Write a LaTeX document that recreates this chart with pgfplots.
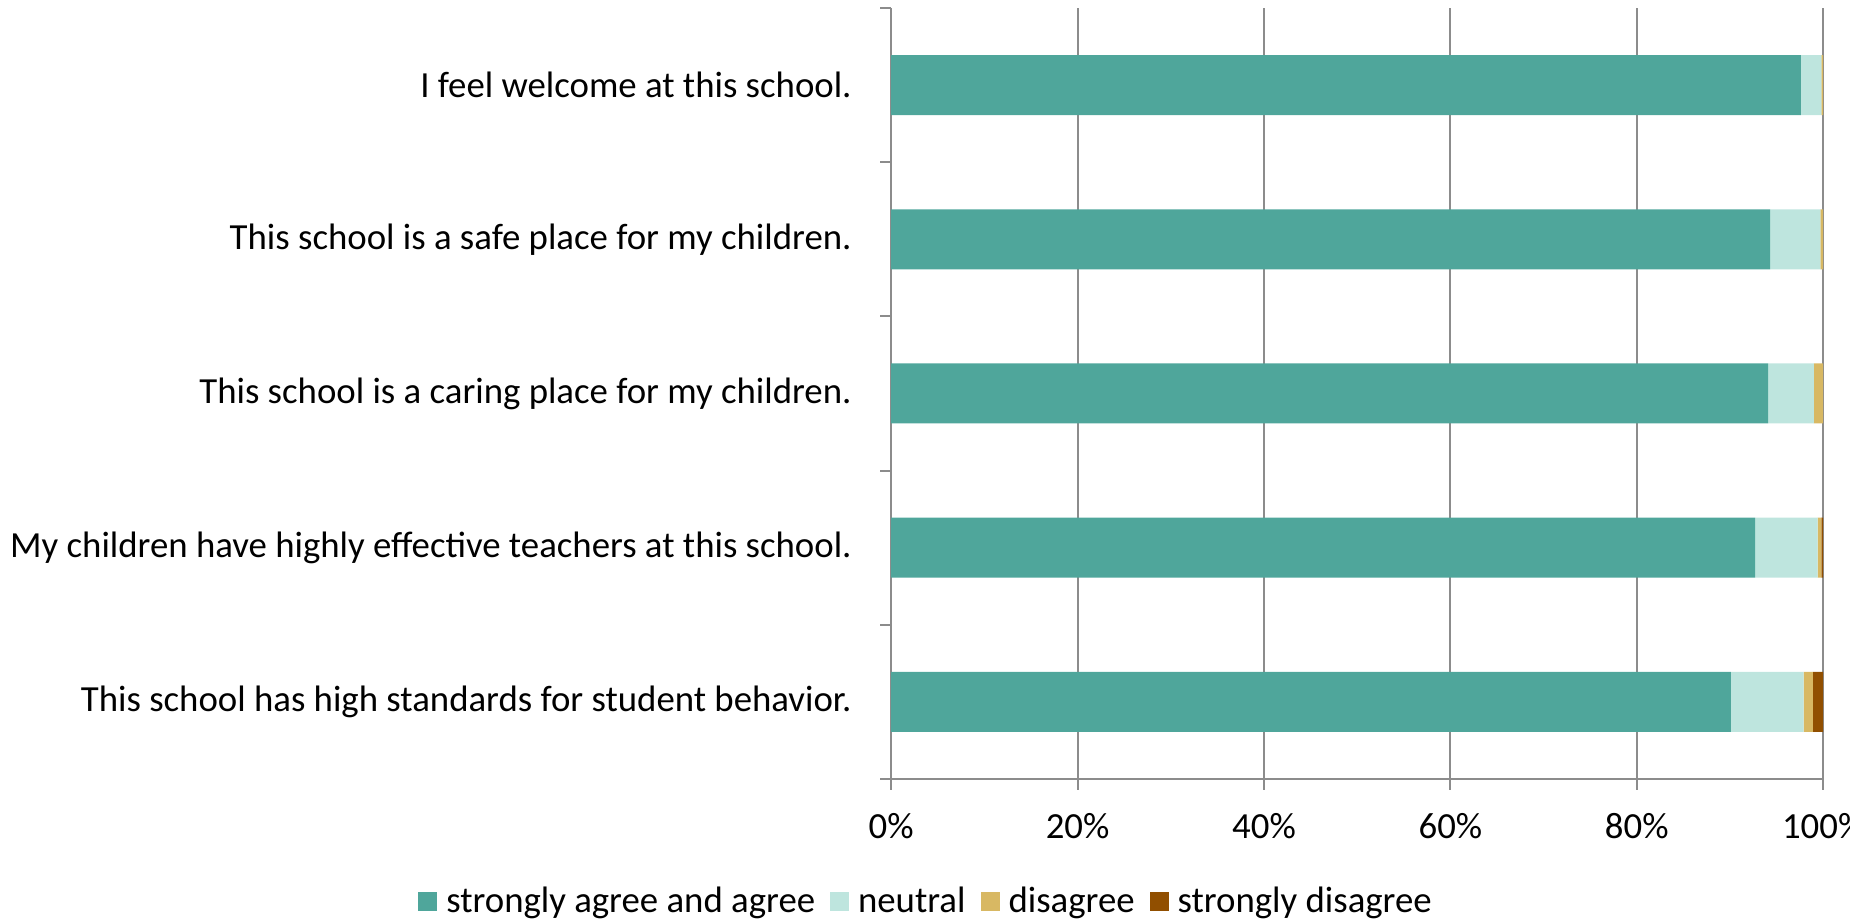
\documentclass[border=0pt]{standalone}
\usepackage{fontspec}
\setmainfont{Carlito}
\usepackage{pgfplots}
\pgfplotsset{compat=1.18}
\definecolor{cagree}{HTML}{4FA69B}
\definecolor{cneutral}{HTML}{BEE5DE}
\definecolor{cdis}{HTML}{D8B863}
\definecolor{csdis}{HTML}{914F00}
\definecolor{cgrid}{HTML}{8C8C8C}
\begin{document}
\begin{tikzpicture}
\begin{axis}[
  at={(0pt,0pt)}, anchor=south west,
  scale only axis, width=466pt, height=385.5pt,
  xbar stacked, bar width=30pt,
  xmin=0, xmax=100, ymin=-0.5, ymax=4.5,
  axis x line*=bottom, axis y line*=left,
  axis line style={cgrid, line width=1pt, -},
  xtick={0,20,...,100},
  xticklabels={0\%,20\%,40\%,60\%,80\%,100\%},
  minor xtick={0,20,...,100},
  ytick={0,1,2,3,4},
  minor ytick={-0.5,0.5,...,4.5},
  yticklabels={This school has high standards for student behavior.,
    My children have highly effective teachers at this school.,
    This school is a caring place for my children.,
    This school is a safe place for my children.,
    I feel welcome at this school.},
  major tick length=0pt, minor tick length=5.5pt, tick align=outside,
  tick style={cgrid, line width=1pt},
  xmajorgrids, major grid style={cgrid, line width=1pt},
  font=\fontsize{18.4pt}{21pt}\selectfont,
  y tick label style={anchor=east, inner sep=0pt, xshift=-19.6pt},
  x tick label style={anchor=north, inner sep=0pt, yshift=-17pt},
  legend columns=4,
  legend style={draw=none, fill=none, at={(axis description cs:0.0363,-0.159)}, anchor=center,
    /tikz/every even column/.append style={column sep=7.5pt},
    /tikz/every odd column/.append style={column sep=4.5pt},
    nodes={inner sep=0pt},
    font=\fontsize{18.4pt}{21pt}\selectfont},
  legend image code/.code={\fill[#1] (0pt,-4.75pt) rectangle (9.5pt,4.75pt);},
]
\addplot[fill=cagree, draw=none] coordinates {(90.1,0) (92.7,1) (94.1,2) (94.3,3) (97.6,4)};
\addplot[fill=cneutral, draw=none] coordinates {(7.8,0) (6.7,1) (4.9,2) (5.4,3) (2.2,4)};
\addplot[fill=cdis, draw=none] coordinates {(1.0,0) (0.4,1) (1.0,2) (0.3,3) (0.2,4)};
\addplot[fill=csdis, draw=none] coordinates {(1.1,0) (0.2,1) (0,2) (0,3) (0,4)};
\legend{strongly agree and agree, neutral, disagree, strongly disagree}
\end{axis}
\pgfresetboundingbox
\path[use as bounding box] (-445.6pt,-70pt) rectangle (479.4pt,389.5pt);
\end{tikzpicture}
\end{document}
